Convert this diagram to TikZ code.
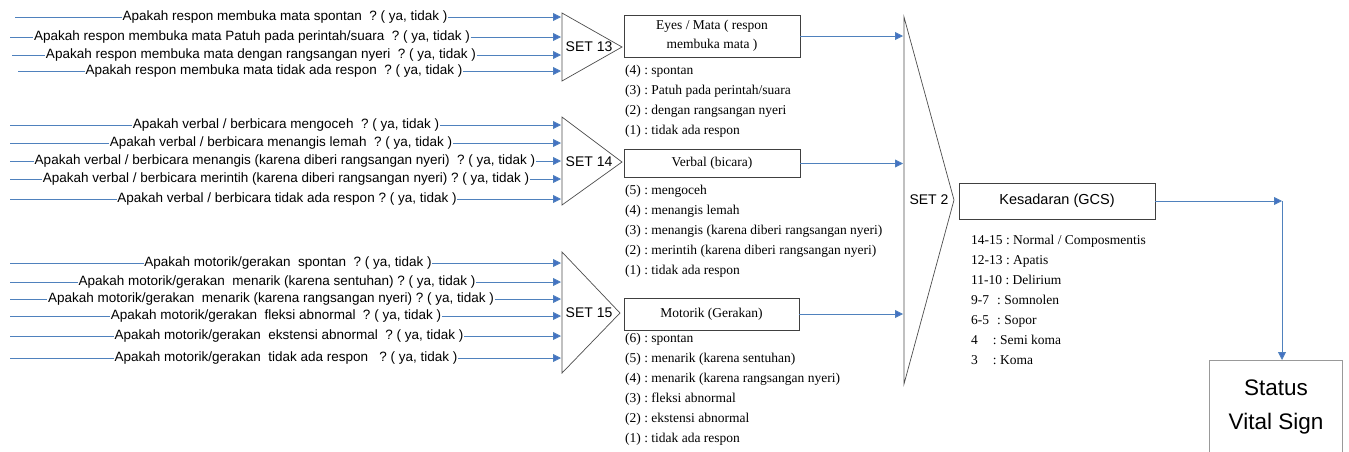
\documentclass[tikz,border=0pt]{standalone}
\usepackage{fontspec}
\setmainfont{Liberation Serif}
\setsansfont{Liberation Sans}
\usetikzlibrary{arrows.meta}
\definecolor{wireblue}{RGB}{79,129,189}
\definecolor{tipblue}{RGB}{68,114,196}
\frenchspacing
\begin{document}
\begin{tikzpicture}[x=1pt,y=-1pt,
    wire/.style={wireblue,line width=0.8pt},
    arr/.style={wire,-{Triangle[length=8pt,width=8pt,fill=tipblue]}},
    ask/.style={font=\sffamily\fontsize{13.5}{14}\selectfont,inner sep=0.5pt},
    setlbl/.style={font=\sffamily\fontsize{14}{15}\selectfont,inner sep=0pt},
    item/.style={font=\rmfamily\fontsize{13.5}{15}\selectfont,anchor=west,inner sep=0pt,
        text height=9pt,text depth=3pt},
    box/.style={draw=black!75,line width=0.8pt,inner sep=0pt,align=center},
    funnel/.style={draw=black!70,line width=0.7pt}]
    \useasboundingbox (0,0) rectangle (1349,451);
    \draw[funnel] (562,13) -- (622,47) -- (562,81) -- cycle;
    \draw[funnel] (562,117) -- (622,162) -- (562,205) -- cycle;
    \draw[funnel] (562,252) -- (620,313) -- (562,373) -- cycle;
    \draw[funnel] (904,17) -- (954,200) -- (904,384) -- cycle;
    \node[setlbl] (set13) at (589,47) {SET 13};
    \node[setlbl] (set14) at (589,162) {SET 14};
    \node[setlbl] (set15) at (589,313) {SET 15};
    \node[setlbl] (set2) at (929,200) {SET 2};
    \foreach \y/\cx/\sx/\t [count=\i] in {
        17/285/15/{Apakah respon membuka mata spontan ~? ( ya, tidak )},
        37/252/10/{Apakah respon membuka mata Patuh pada perintah/suara ~? ( ya, tidak )},
        55/261/12/{Apakah respon membuka mata dengan rangsangan nyeri ~? ( ya, tidak )},
        71/274/18/{Apakah respon membuka mata tidak ada respon ~? ( ya, tidak )}}
    {
        \coordinate (sa\i) at (\sx,\y);
        \coordinate (ea\i) at (561,\y);
        \node[ask] (qa\i) at (\cx,\y) {\t};
        \draw[wire] (sa\i) -- (qa\i);
        \draw[arr] (qa\i) -- (ea\i);
    }
    \foreach \y/\cx/\t [count=\i] in {
        125/286/{Apakah verbal / berbicara mengoceh ~? ( ya, tidak )},
        143/281/{Apakah verbal / berbicara menangis lemah ~? ( ya, tidak )},
        161/285/{Apakah verbal / berbicara menangis (karena diberi rangsangan nyeri) ~? ( ya, tidak )},
        179/286/{Apakah verbal / berbicara merintih (karena diberi rangsangan nyeri) ? ( ya, tidak )},
        199/287/{Apakah verbal / berbicara tidak ada respon ? ( ya, tidak )}}
    {
        \coordinate (sb\i) at (10,\y);
        \coordinate (eb\i) at (561,\y);
        \node[ask] (qb\i) at (\cx,\y) {\t};
        \draw[wire] (sb\i) -- (qb\i);
        \draw[arr] (qb\i) -- (eb\i);
    }
    \foreach \y/\cx/\t [count=\i] in {
        263/288/{Apakah motorik/gerakan ~spontan ~? ( ya, tidak )},
        282/277/{Apakah motorik/gerakan ~menarik (karena sentuhan) ? ( ya, tidak )},
        299/271/{Apakah motorik/gerakan ~menarik (karena rangsangan nyeri) ? ( ya, tidak )},
        316/276/{Apakah motorik/gerakan ~fleksi abnormal ~? ( ya, tidak )},
        336/289/{Apakah motorik/gerakan ~ekstensi abnormal ~? ( ya, tidak )},
        358/286/{Apakah motorik/gerakan ~tidak ada respon ~~? ( ya, tidak )}}
    {
        \coordinate (sc\i) at (10,\y);
        \coordinate (ec\i) at (561,\y);
        \node[ask] (qc\i) at (\cx,\y) {\t};
        \draw[wire] (sc\i) -- (qc\i);
        \draw[arr] (qc\i) -- (ec\i);
    }
    \node[box,font=\rmfamily\fontsize{13.5}{19}\selectfont,minimum width=176pt,minimum height=42pt] (eyes) at (712,36) {Eyes / Mata ( respon\\membuka mata )};
    \node[box,font=\rmfamily\fontsize{13.5}{15}\selectfont,minimum width=176pt,minimum height=28pt] (verbal) at (712,163.5) {Verbal (bicara)};
    \node[box,font=\rmfamily\fontsize{13.5}{15}\selectfont,minimum width=175pt,minimum height=32pt] (motorik) at (711.5,314) {Motorik (Gerakan)};
    \node[box,font=\sffamily\fontsize{14.5}{16}\selectfont,minimum width=196pt,minimum height=36pt] (gcs) at (1057,201) {Kesadaran (GCS)};
    \coordinate (setleft) at (903,0);
    \draw[arr] (eyes.east) -- (eyes.east -| setleft);
    \draw[arr] (verbal.east) -- (verbal.east -| setleft);
    \draw[arr] (motorik.east) -- (motorik.east -| setleft);
    \foreach \t [count=\i] in {(4) : spontan, (3) : Patuh pada perintah/suara,
        (2) : dengan rangsangan nyeri, (1) : tidak ada respon}
        \node[item] (ie\i) at (625,51+20*\i) {\t};
    \foreach \t [count=\i] in {(5) : mengoceh, (4) : menangis lemah,
        (3) : menangis (karena diberi rangsangan nyeri),
        (2) : merintih (karena diberi rangsangan nyeri), (1) : tidak ada respon}
        \node[item] (iv\i) at (625,171+20*\i) {\t};
    \foreach \t [count=\i] in {(6) : spontan, (5) : menarik (karena sentuhan),
        (4) : menarik (karena rangsangan nyeri), (3) : fleksi abnormal,
        (2) : ekstensi abnormal, (1) : tidak ada respon}
        \node[item] (im\i) at (625,319+20*\i) {\t};
    \foreach \t [count=\i] in {14-15 : Normal / Composmentis, 12-13 : Apatis,
        11-10 : Delirium, 9-7\hspace{8pt}: Somnolen, 6-5\hspace{8pt}: Sopor,
        4\hspace{15pt}: Semi koma, 3\hspace{15pt}: Koma}
        \node[item] (ig\i) at (971,221+20*\i) {\t};
    \coordinate (turn) at (1282,201);
    \coordinate (stattop) at (1282,360);
    \draw[arr] (gcs.east) -- (turn);
    \draw[arr] (turn) -- (stattop);
    \draw[black!40,line width=0.8pt] (1209,455) |- (1342,360) -- (1342,455);
    \node[font=\sffamily\fontsize{22.5}{34}\selectfont,align=center] (status) at (1276,407) {Status\\Vital Sign};
\end{tikzpicture}
\end{document}
